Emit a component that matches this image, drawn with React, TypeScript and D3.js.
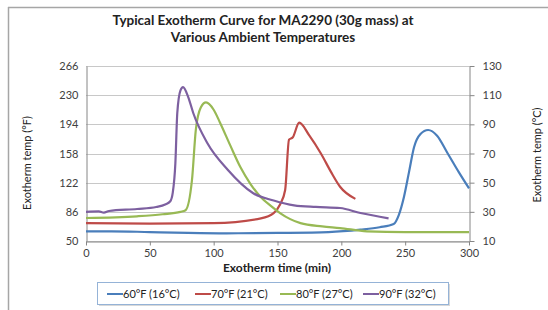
import React, { useEffect, useRef } from 'react';
import * as d3 from 'd3';

// series: time (min) and temperature (°F)
const blueT = [0, 20, 50, 80, 110, 150, 190, 215, 230, 241, 245, 249, 253, 257, 262, 268, 275, 283, 292, 300];
const blueF = [62, 62, 61, 60, 59.5, 60, 61, 64, 67, 71, 82, 104, 135, 166, 182, 187, 180, 159, 135, 115];

const redT = [0, 50, 100, 137, 147, 152, 156, 159, 162, 167, 175, 184, 192, 199, 211];
const redF = [72, 71.5, 72, 78, 84.5, 95, 113, 175, 178, 196, 180, 158, 135, 117, 102];

const greenT = [0, 40, 60, 74, 78, 83, 86, 90, 94, 100, 105, 113, 121, 129, 137, 145, 152, 160, 168, 185, 199, 220, 250, 300];
const greenF = [78.4, 80.5, 83, 86, 88, 125, 187, 215, 221, 212, 196, 168, 141, 120, 104, 93, 84.5, 77, 72, 68, 66, 62, 61, 61];

const purpleT = [0, 10, 14, 18, 40, 55, 62, 66, 68, 70, 71.5, 74, 76, 80, 84, 95, 111, 131, 147, 163, 180, 199, 215, 237];
const purpleF = [86, 86.5, 85, 87, 89.5, 92, 95, 99, 110, 146, 208, 236, 240, 228, 208, 171, 138, 109, 100, 94, 92, 90.7, 84.5, 78];

const seriesNames = ['60°F (16°C)', '70°F (21°C)', '80°F (27°C)', '90°F (32°C)'];
const seriesColors = ['#4A7EBB', '#BE4B48', '#98B954', '#7D60A0'];

const fTicks = [50, 86, 122, 158, 194, 230, 266];
const cTicks = [10, 30, 50, 70, 90, 110, 130];
const xTicks = [0, 50, 100, 150, 200, 250, 300];

const W = 548;
const H = 310;
const FONT = 'Lato, "Open Sans", sans-serif';

export default function App() {
  const ref = useRef<SVGSVGElement>(null);

  useEffect(() => {
    const svg = d3.select(ref.current);
    svg.selectAll('*').remove();

    const x = d3.scaleLinear().domain([0, 300]).range([86, 469]);
    const yF = d3.scaleLinear().domain([50, 266]).range([241, 66]);
    const yC = d3.scaleLinear().domain([10, 130]).range([241, 66]);

    // chart frame (cropped: only top and left edges visible)
    svg.append('line').attr('x1', 8).attr('x2', W).attr('y1', 7.5).attr('y2', 7.5)
      .attr('stroke', '#A6A6A6').attr('stroke-width', 1.5);
    svg.append('line').attr('x1', 8.5).attr('x2', 8.5).attr('y1', 7).attr('y2', H)
      .attr('stroke', '#A6A6A6').attr('stroke-width', 1.5);

    // title
    const title = svg.append('text').attr('x', 263).attr('text-anchor', 'middle')
      .style('font-family', FONT).style('font-weight', 'bold').style('font-size', '13.5px').attr('fill', '#222');
    title.append('tspan').attr('x', 263).attr('y', 25).text('Typical Exotherm Curve for MA2290 (30g mass) at');
    title.append('tspan').attr('x', 263).attr('y', 42).text('Various Ambient Temperatures');

    // gridlines
    svg.append('g').selectAll('line').data(fTicks).enter().append('line')
      .attr('x1', 86).attr('x2', 469)
      .attr('y1', d => Math.round(yF(d)) + 0.5).attr('y2', d => Math.round(yF(d)) + 0.5)
      .attr('stroke', '#C8C8C8').attr('stroke-width', 1);

    // left axis
    const left = svg.append('g').attr('transform', 'translate(86.5,0)')
      .call(d3.axisLeft(yF).tickValues(fTicks).tickSize(0).tickPadding(8));
    left.select('.domain').attr('stroke', '#868686');
    left.selectAll('text').style('font-family', FONT).style('font-size', '11px').attr('fill', '#404040');

    // right axis
    const right = svg.append('g').attr('transform', 'translate(469.5,0)')
      .call(d3.axisRight(yC).tickValues(cTicks).tickSize(5).tickSizeOuter(0).tickPadding(8));
    right.select('.domain').attr('stroke', '#868686');
    right.selectAll('.tick line').attr('stroke', '#868686');
    right.selectAll('text').style('font-family', FONT).style('font-size', '11px').attr('fill', '#404040');

    // bottom axis
    const bottom = svg.append('g').attr('transform', 'translate(0,241.5)')
      .call(d3.axisBottom(x).tickValues(xTicks).tickSize(4).tickSizeOuter(0).tickPadding(4));
    bottom.select('.domain').attr('stroke', '#868686');
    bottom.selectAll('.tick line').attr('stroke', '#868686');
    bottom.selectAll('text').style('font-family', FONT).style('font-size', '11px').attr('fill', '#404040');

    // axis titles
    svg.append('text').attr('x', 277).attr('y', 272).attr('text-anchor', 'middle')
      .style('font-family', FONT).style('font-weight', 'bold').style('font-size', '12px').attr('fill', '#222')
      .text('Exotherm time (min)');
    svg.append('text').attr('transform', 'translate(31,163) rotate(-90)').attr('text-anchor', 'middle')
      .style('font-family', FONT).style('font-size', '11px').attr('fill', '#222')
      .text('Exotherm temp (°F)');
    svg.append('text').attr('transform', 'translate(541,155) rotate(-90)').attr('text-anchor', 'middle')
      .style('font-family', FONT).style('font-size', '11px').attr('fill', '#222')
      .text('Exotherm temp (°C)');

    // lines
    const all = [
      d3.zip(blueT, blueF),
      d3.zip(redT, redF),
      d3.zip(greenT, greenF),
      d3.zip(purpleT, purpleF),
    ];
    const line = d3.line<number[]>().x(d => x(d[0])).y(d => yF(d[1])).curve(d3.curveMonotoneX);
    svg.append('g').selectAll('path').data(all).enter().append('path')
      .attr('d', d => line(d))
      .attr('fill', 'none')
      .attr('stroke', (d, i) => seriesColors[i])
      .attr('stroke-width', 2.2)
      .attr('stroke-linejoin', 'round');

    // legend
    const lg = svg.append('g');
    lg.append('rect').attr('x', 99).attr('y', 284).attr('width', 351).attr('height', 22)
      .attr('fill', '#D8D8D8');
    lg.append('rect').attr('x', 97.5).attr('y', 282.5).attr('width', 351).attr('height', 22)
      .attr('fill', '#fff').attr('stroke', '#95B3D7').attr('stroke-width', 1);
    const legX = [107, 195, 280, 363];
    seriesNames.forEach((name, i) => {
      lg.append('line').attr('x1', legX[i]).attr('x2', legX[i] + 16).attr('y1', 294).attr('y2', 294)
        .attr('stroke', seriesColors[i]).attr('stroke-width', 2);
      lg.append('text').attr('x', legX[i] + 16).attr('y', 298)
        .style('font-family', FONT).style('font-size', '11px').attr('fill', '#222')
        .text(name);
    });
  }, []);

  return (
    <div>
      <svg ref={ref} width={W} height={H} style={{ position: 'absolute', left: 0, top: 0 }} />
    </div>
  );
}
